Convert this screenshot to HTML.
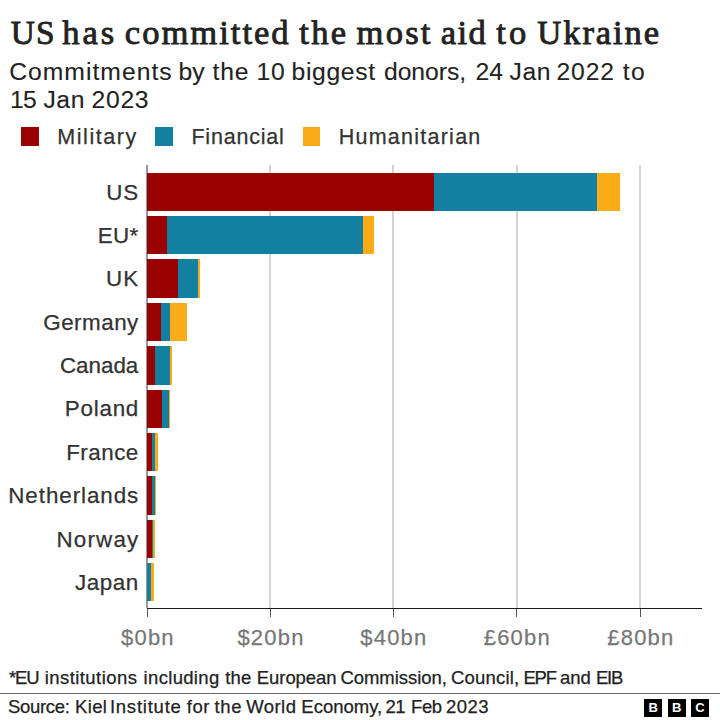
<!DOCTYPE html>
<html><head><meta charset="utf-8"><style>
html,body{margin:0;padding:0;background:#fff;width:720px;height:720px;overflow:hidden;position:relative}
</style></head><body>
<div id="t0" style="position:absolute;left:10.70px;top:14.82px;font-family:'Liberation Serif', serif;font-size:34.6px;line-height:34.6px;letter-spacing:1.170px;color:#222;white-space:nowrap;-webkit-text-stroke:0.85px #222;"><span style="font-size:33.3px">U</span><span style="font-size:33.3px">S</span></div>
<div id="t1" style="position:absolute;left:62.30px;top:14.82px;font-family:'Liberation Serif', serif;font-size:34.6px;line-height:34.6px;letter-spacing:2.850px;color:#222;white-space:nowrap;-webkit-text-stroke:0.85px #222;">has</div>
<div id="t2" style="position:absolute;left:124.80px;top:14.82px;font-family:'Liberation Serif', serif;font-size:34.6px;line-height:34.6px;letter-spacing:1.990px;color:#222;white-space:nowrap;-webkit-text-stroke:0.85px #222;">committed</div>
<div id="t3" style="position:absolute;left:299.30px;top:14.82px;font-family:'Liberation Serif', serif;font-size:34.6px;line-height:34.6px;letter-spacing:2.290px;color:#222;white-space:nowrap;-webkit-text-stroke:0.85px #222;">the</div>
<div id="t4" style="position:absolute;left:356.50px;top:14.82px;font-family:'Liberation Serif', serif;font-size:34.6px;line-height:34.6px;letter-spacing:2.235px;color:#222;white-space:nowrap;-webkit-text-stroke:0.85px #222;">most</div>
<div id="t5" style="position:absolute;left:440.70px;top:14.82px;font-family:'Liberation Serif', serif;font-size:34.6px;line-height:34.6px;letter-spacing:1.490px;color:#222;white-space:nowrap;-webkit-text-stroke:0.85px #222;">aid</div>
<div id="t6" style="position:absolute;left:496.20px;top:14.82px;font-family:'Liberation Serif', serif;font-size:34.6px;line-height:34.6px;letter-spacing:3.200px;color:#222;white-space:nowrap;-webkit-text-stroke:0.85px #222;">to</div>
<div id="t7" style="position:absolute;left:537.30px;top:14.82px;font-family:'Liberation Serif', serif;font-size:34.6px;line-height:34.6px;letter-spacing:1.888px;color:#222;white-space:nowrap;-webkit-text-stroke:0.85px #222;"><span style="font-size:33.3px">U</span>kraine</div>
<div id="s0" style="position:absolute;left:9.20px;top:59.59px;font-family:'Liberation Sans', sans-serif;font-size:24.7px;line-height:24.7px;letter-spacing:1.018px;color:#222;white-space:nowrap;-webkit-text-stroke:0.1px #222;">Commitments</div>
<div id="s1" style="position:absolute;left:178.40px;top:59.59px;font-family:'Liberation Sans', sans-serif;font-size:24.7px;line-height:24.7px;letter-spacing:0.090px;color:#222;white-space:nowrap;-webkit-text-stroke:0.1px #222;">by</div>
<div id="s2" style="position:absolute;left:212.50px;top:59.59px;font-family:'Liberation Sans', sans-serif;font-size:24.7px;line-height:24.7px;letter-spacing:0.810px;color:#222;white-space:nowrap;-webkit-text-stroke:0.1px #222;">the</div>
<div id="s3" style="position:absolute;left:256.40px;top:59.59px;font-family:'Liberation Sans', sans-serif;font-size:24.7px;line-height:24.7px;letter-spacing:0.890px;color:#222;white-space:nowrap;-webkit-text-stroke:0.1px #222;">10</div>
<div id="s4" style="position:absolute;left:291.60px;top:59.59px;font-family:'Liberation Sans', sans-serif;font-size:24.7px;line-height:24.7px;letter-spacing:0.649px;color:#222;white-space:nowrap;-webkit-text-stroke:0.1px #222;">biggest</div>
<div id="s5" style="position:absolute;left:384.00px;top:59.59px;font-family:'Liberation Sans', sans-serif;font-size:24.7px;line-height:24.7px;letter-spacing:-0.045px;color:#222;white-space:nowrap;-webkit-text-stroke:0.1px #222;">donors,</div>
<div id="s6" style="position:absolute;left:475.40px;top:59.59px;font-family:'Liberation Sans', sans-serif;font-size:24.7px;line-height:24.7px;letter-spacing:0.090px;color:#222;white-space:nowrap;-webkit-text-stroke:0.1px #222;">24</div>
<div id="s7" style="position:absolute;left:509.50px;top:59.59px;font-family:'Liberation Sans', sans-serif;font-size:24.7px;line-height:24.7px;letter-spacing:0.650px;color:#222;white-space:nowrap;-webkit-text-stroke:0.1px #222;">Jan</div>
<div id="s8" style="position:absolute;left:556.50px;top:59.59px;font-family:'Liberation Sans', sans-serif;font-size:24.7px;line-height:24.7px;letter-spacing:0.836px;color:#222;white-space:nowrap;-webkit-text-stroke:0.1px #222;">2022</div>
<div id="s9" style="position:absolute;left:622.70px;top:59.59px;font-family:'Liberation Sans', sans-serif;font-size:24.7px;line-height:24.7px;letter-spacing:1.530px;color:#222;white-space:nowrap;-webkit-text-stroke:0.1px #222;">to</div>
<div id="u0" style="position:absolute;left:9.90px;top:87.79px;font-family:'Liberation Sans', sans-serif;font-size:24.7px;line-height:24.7px;letter-spacing:-0.610px;color:#222;white-space:nowrap;-webkit-text-stroke:0.1px #222;">15</div>
<div id="u1" style="position:absolute;left:43.40px;top:87.79px;font-family:'Liberation Sans', sans-serif;font-size:24.7px;line-height:24.7px;letter-spacing:0.590px;color:#222;white-space:nowrap;-webkit-text-stroke:0.1px #222;">Jan</div>
<div id="u2" style="position:absolute;left:91.50px;top:87.79px;font-family:'Liberation Sans', sans-serif;font-size:24.7px;line-height:24.7px;letter-spacing:0.723px;color:#222;white-space:nowrap;-webkit-text-stroke:0.1px #222;">2023</div>
<div style="position:absolute;left:21.00px;top:127.30px;width:17.60px;height:18.40px;background:#990000"></div>
<div style="position:absolute;left:155.30px;top:127.30px;width:17.60px;height:18.40px;background:#1380A1"></div>
<div style="position:absolute;left:302.50px;top:127.30px;width:17.70px;height:18.40px;background:#FAAB18"></div>
<div style="position:absolute;left:57.30px;top:126.80px;font-family:'Liberation Sans', sans-serif;font-weight:normal;font-size:21.5px;line-height:21.5px;letter-spacing:1.55px;color:#333;white-space:nowrap;-webkit-text-stroke:0.25px #333;">Military</div>
<div style="position:absolute;left:191.40px;top:126.80px;font-family:'Liberation Sans', sans-serif;font-weight:normal;font-size:21.5px;line-height:21.5px;letter-spacing:0.8px;color:#333;white-space:nowrap;-webkit-text-stroke:0.25px #333;">Financial</div>
<div style="position:absolute;left:338.70px;top:126.80px;font-family:'Liberation Sans', sans-serif;font-weight:normal;font-size:21.5px;line-height:21.5px;letter-spacing:1.25px;color:#333;white-space:nowrap;-webkit-text-stroke:0.25px #333;">Humanitarian</div>
<div style="position:absolute;left:269.30px;top:165.30px;width:2.20px;height:442.70px;background:#d4d4d4"></div>
<div style="position:absolute;left:392.20px;top:165.30px;width:2.20px;height:442.70px;background:#d4d4d4"></div>
<div style="position:absolute;left:515.60px;top:165.30px;width:2.20px;height:442.70px;background:#d4d4d4"></div>
<div style="position:absolute;left:639.20px;top:165.30px;width:2.20px;height:442.70px;background:#d4d4d4"></div>
<div style="position:absolute;left:146.30px;top:165.30px;width:2.00px;height:442.70px;background:#999"></div>
<div style="position:absolute;left:147.40px;top:172.70px;width:473.00px;height:38.30px;background:#FAAB18"></div>
<div style="position:absolute;left:147.40px;top:172.70px;width:449.30px;height:38.30px;background:#1380A1"></div>
<div style="position:absolute;left:147.40px;top:172.70px;width:286.80px;height:38.30px;background:#990000"></div>
<div style="position:absolute;right:580.70px;text-align:right;top:181.54px;font-family:'Liberation Sans', sans-serif;font-weight:normal;font-size:22.4px;line-height:22.4px;letter-spacing:1.0px;color:#333;white-space:nowrap;-webkit-text-stroke:0.25px #333;">US</div>
<div style="position:absolute;left:147.40px;top:216.08px;width:226.30px;height:38.30px;background:#FAAB18"></div>
<div style="position:absolute;left:147.40px;top:216.08px;width:215.80px;height:38.30px;background:#1380A1"></div>
<div style="position:absolute;left:147.40px;top:216.08px;width:19.40px;height:38.30px;background:#990000"></div>
<div style="position:absolute;right:581.30px;text-align:right;top:224.92px;font-family:'Liberation Sans', sans-serif;font-weight:normal;font-size:22.4px;line-height:22.4px;letter-spacing:0.4px;color:#333;white-space:nowrap;-webkit-text-stroke:0.25px #333;">EU*</div>
<div style="position:absolute;left:147.40px;top:259.46px;width:53.10px;height:38.30px;background:#FAAB18"></div>
<div style="position:absolute;left:147.40px;top:259.46px;width:50.80px;height:38.30px;background:#1380A1"></div>
<div style="position:absolute;left:147.40px;top:259.46px;width:30.90px;height:38.30px;background:#990000"></div>
<div style="position:absolute;right:580.40px;text-align:right;top:268.30px;font-family:'Liberation Sans', sans-serif;font-weight:normal;font-size:22.4px;line-height:22.4px;letter-spacing:1.3px;color:#333;white-space:nowrap;-webkit-text-stroke:0.25px #333;">UK</div>
<div style="position:absolute;left:147.40px;top:302.84px;width:39.30px;height:38.30px;background:#FAAB18"></div>
<div style="position:absolute;left:147.40px;top:302.84px;width:22.60px;height:38.30px;background:#1380A1"></div>
<div style="position:absolute;left:147.40px;top:302.84px;width:14.00px;height:38.30px;background:#990000"></div>
<div style="position:absolute;right:581.20px;text-align:right;top:311.68px;font-family:'Liberation Sans', sans-serif;font-weight:normal;font-size:22.4px;line-height:22.4px;letter-spacing:0.5px;color:#333;white-space:nowrap;-webkit-text-stroke:0.25px #333;">Germany</div>
<div style="position:absolute;left:147.40px;top:346.22px;width:24.60px;height:38.30px;background:#FAAB18"></div>
<div style="position:absolute;left:147.40px;top:346.22px;width:22.90px;height:38.30px;background:#1380A1"></div>
<div style="position:absolute;left:147.40px;top:346.22px;width:7.60px;height:38.30px;background:#990000"></div>
<div style="position:absolute;right:581.70px;text-align:right;top:355.06px;font-family:'Liberation Sans', sans-serif;font-weight:normal;font-size:22.4px;line-height:22.4px;letter-spacing:0.0px;color:#333;white-space:nowrap;-webkit-text-stroke:0.25px #333;">Canada</div>
<div style="position:absolute;left:147.40px;top:389.60px;width:22.40px;height:38.30px;background:#FAAB18"></div>
<div style="position:absolute;left:147.40px;top:389.60px;width:21.90px;height:38.30px;background:#1380A1"></div>
<div style="position:absolute;left:147.40px;top:389.60px;width:15.00px;height:38.30px;background:#990000"></div>
<div style="position:absolute;right:580.95px;text-align:right;top:398.44px;font-family:'Liberation Sans', sans-serif;font-weight:normal;font-size:22.4px;line-height:22.4px;letter-spacing:0.75px;color:#333;white-space:nowrap;-webkit-text-stroke:0.25px #333;">Poland</div>
<div style="position:absolute;left:147.40px;top:432.98px;width:10.40px;height:38.30px;background:#FAAB18"></div>
<div style="position:absolute;left:147.40px;top:432.98px;width:8.10px;height:38.30px;background:#1380A1"></div>
<div style="position:absolute;left:147.40px;top:432.98px;width:4.40px;height:38.30px;background:#990000"></div>
<div style="position:absolute;right:581.22px;text-align:right;top:441.82px;font-family:'Liberation Sans', sans-serif;font-weight:normal;font-size:22.4px;line-height:22.4px;letter-spacing:0.48px;color:#333;white-space:nowrap;-webkit-text-stroke:0.25px #333;">France</div>
<div style="position:absolute;left:147.40px;top:476.36px;width:8.60px;height:38.30px;background:#FAAB18"></div>
<div style="position:absolute;left:147.40px;top:476.36px;width:7.20px;height:38.30px;background:#1380A1"></div>
<div style="position:absolute;left:147.40px;top:476.36px;width:5.10px;height:38.30px;background:#990000"></div>
<div style="position:absolute;right:580.77px;text-align:right;top:485.20px;font-family:'Liberation Sans', sans-serif;font-weight:normal;font-size:22.4px;line-height:22.4px;letter-spacing:0.93px;color:#333;white-space:nowrap;-webkit-text-stroke:0.25px #333;">Netherlands</div>
<div style="position:absolute;left:147.40px;top:519.74px;width:7.60px;height:38.30px;background:#FAAB18"></div>
<div style="position:absolute;left:147.40px;top:519.74px;width:5.60px;height:38.30px;background:#1380A1"></div>
<div style="position:absolute;left:147.40px;top:519.74px;width:5.10px;height:38.30px;background:#990000"></div>
<div style="position:absolute;right:580.52px;text-align:right;top:528.58px;font-family:'Liberation Sans', sans-serif;font-weight:normal;font-size:22.4px;line-height:22.4px;letter-spacing:1.18px;color:#333;white-space:nowrap;-webkit-text-stroke:0.25px #333;">Norway</div>
<div style="position:absolute;left:147.40px;top:563.12px;width:6.90px;height:38.30px;background:#FAAB18"></div>
<div style="position:absolute;left:147.40px;top:563.12px;width:4.10px;height:38.30px;background:#1380A1"></div>
<div style="position:absolute;left:147.40px;top:563.12px;width:0.00px;height:38.30px;background:#990000"></div>
<div style="position:absolute;right:581.15px;text-align:right;top:571.96px;font-family:'Liberation Sans', sans-serif;font-weight:normal;font-size:22.4px;line-height:22.4px;letter-spacing:0.55px;color:#333;white-space:nowrap;-webkit-text-stroke:0.25px #333;">Japan</div>
<div style="position:absolute;left:147.00px;top:607.50px;width:555.00px;height:1.90px;background:#1a1a1a"></div>
<div style="position:absolute;left:146.55px;top:609.00px;width:1.50px;height:8.00px;background:#555"></div>
<div style="position:absolute;left:-52.10px;width:400px;text-align:center;top:627.18px;font-family:'Liberation Sans', sans-serif;font-weight:normal;font-size:22px;line-height:22px;letter-spacing:1.2px;color:#777;white-space:nowrap;-webkit-text-stroke:0.25px #777;">$0bn</div>
<div style="position:absolute;left:269.65px;top:609.00px;width:1.50px;height:8.00px;background:#555"></div>
<div style="position:absolute;left:71.00px;width:400px;text-align:center;top:627.18px;font-family:'Liberation Sans', sans-serif;font-weight:normal;font-size:22px;line-height:22px;letter-spacing:1.2px;color:#777;white-space:nowrap;-webkit-text-stroke:0.25px #777;">$20bn</div>
<div style="position:absolute;left:392.55px;top:609.00px;width:1.50px;height:8.00px;background:#555"></div>
<div style="position:absolute;left:193.90px;width:400px;text-align:center;top:627.18px;font-family:'Liberation Sans', sans-serif;font-weight:normal;font-size:22px;line-height:22px;letter-spacing:1.2px;color:#777;white-space:nowrap;-webkit-text-stroke:0.25px #777;">$40bn</div>
<div style="position:absolute;left:515.95px;top:609.00px;width:1.50px;height:8.00px;background:#555"></div>
<div style="position:absolute;left:317.30px;width:400px;text-align:center;top:627.18px;font-family:'Liberation Sans', sans-serif;font-weight:normal;font-size:22px;line-height:22px;letter-spacing:1.2px;color:#777;white-space:nowrap;-webkit-text-stroke:0.25px #777;">£60bn</div>
<div style="position:absolute;left:639.55px;top:609.00px;width:1.50px;height:8.00px;background:#555"></div>
<div style="position:absolute;left:440.90px;width:400px;text-align:center;top:627.18px;font-family:'Liberation Sans', sans-serif;font-weight:normal;font-size:22px;line-height:22px;letter-spacing:1.2px;color:#777;white-space:nowrap;-webkit-text-stroke:0.25px #777;">£80bn</div>
<div id="f0" style="position:absolute;left:9.00px;top:668.84px;font-family:'Liberation Sans', sans-serif;font-size:18.5px;line-height:18.5px;letter-spacing:-1.200px;color:#222;white-space:nowrap;-webkit-text-stroke:0.25px #222;">*EU</div>
<div id="f1" style="position:absolute;left:44.70px;top:668.84px;font-family:'Liberation Sans', sans-serif;font-size:18.5px;line-height:18.5px;letter-spacing:0.435px;color:#222;white-space:nowrap;-webkit-text-stroke:0.25px #222;">institutions</div>
<div id="f2" style="position:absolute;left:143.60px;top:668.84px;font-family:'Liberation Sans', sans-serif;font-size:18.5px;line-height:18.5px;letter-spacing:0.320px;color:#222;white-space:nowrap;-webkit-text-stroke:0.25px #222;">including</div>
<div id="f3" style="position:absolute;left:225.30px;top:668.84px;font-family:'Liberation Sans', sans-serif;font-size:18.5px;line-height:18.5px;letter-spacing:0.160px;color:#222;white-space:nowrap;-webkit-text-stroke:0.25px #222;">the</div>
<div id="f4" style="position:absolute;left:256.80px;top:668.84px;font-family:'Liberation Sans', sans-serif;font-size:18.5px;line-height:18.5px;letter-spacing:-0.070px;color:#222;white-space:nowrap;-webkit-text-stroke:0.25px #222;">European</div>
<div id="f5" style="position:absolute;left:340.40px;top:668.84px;font-family:'Liberation Sans', sans-serif;font-size:18.5px;line-height:18.5px;letter-spacing:-0.032px;color:#222;white-space:nowrap;-webkit-text-stroke:0.25px #222;">Commission,</div>
<div id="f6" style="position:absolute;left:451.00px;top:668.84px;font-family:'Liberation Sans', sans-serif;font-size:18.5px;line-height:18.5px;letter-spacing:0.204px;color:#222;white-space:nowrap;-webkit-text-stroke:0.25px #222;">Council,</div>
<div id="f7" style="position:absolute;left:523.40px;top:668.84px;font-family:'Liberation Sans', sans-serif;font-size:18.5px;line-height:18.5px;letter-spacing:-1.200px;color:#222;white-space:nowrap;-webkit-text-stroke:0.25px #222;">EPF</div>
<div id="f8" style="position:absolute;left:560.00px;top:668.84px;font-family:'Liberation Sans', sans-serif;font-size:18.5px;line-height:18.5px;letter-spacing:0.000px;color:#222;white-space:nowrap;-webkit-text-stroke:0.25px #222;">and</div>
<div id="f9" style="position:absolute;left:595.90px;top:668.84px;font-family:'Liberation Sans', sans-serif;font-size:18.5px;line-height:18.5px;letter-spacing:-1.200px;color:#222;white-space:nowrap;-webkit-text-stroke:0.25px #222;">EIB</div>
<div style="position:absolute;left:0.00px;top:692.50px;width:720.00px;height:1.50px;background:#666"></div>
<div id="r0" style="position:absolute;left:7.90px;top:697.84px;font-family:'Liberation Sans', sans-serif;font-size:18.5px;line-height:18.5px;letter-spacing:-0.285px;color:#222;white-space:nowrap;-webkit-text-stroke:0.25px #222;">Source:</div>
<div id="r1" style="position:absolute;left:75.10px;top:697.84px;font-family:'Liberation Sans', sans-serif;font-size:18.5px;line-height:18.5px;letter-spacing:0.302px;color:#222;white-space:nowrap;-webkit-text-stroke:0.25px #222;">Kiel</div>
<div id="r2" style="position:absolute;left:109.90px;top:697.84px;font-family:'Liberation Sans', sans-serif;font-size:18.5px;line-height:18.5px;letter-spacing:0.770px;color:#222;white-space:nowrap;-webkit-text-stroke:0.25px #222;">Institute</div>
<div id="r3" style="position:absolute;left:186.80px;top:697.84px;font-family:'Liberation Sans', sans-serif;font-size:18.5px;line-height:18.5px;letter-spacing:0.570px;color:#222;white-space:nowrap;-webkit-text-stroke:0.25px #222;">for</div>
<div id="r4" style="position:absolute;left:214.40px;top:697.84px;font-family:'Liberation Sans', sans-serif;font-size:18.5px;line-height:18.5px;letter-spacing:0.730px;color:#222;white-space:nowrap;-webkit-text-stroke:0.25px #222;">the</div>
<div id="r5" style="position:absolute;left:246.20px;top:697.84px;font-family:'Liberation Sans', sans-serif;font-size:18.5px;line-height:18.5px;letter-spacing:0.450px;color:#222;white-space:nowrap;-webkit-text-stroke:0.25px #222;">World</div>
<div id="r6" style="position:absolute;left:301.30px;top:697.84px;font-family:'Liberation Sans', sans-serif;font-size:18.5px;line-height:18.5px;letter-spacing:-0.002px;color:#222;white-space:nowrap;-webkit-text-stroke:0.25px #222;">Economy,</div>
<div id="r7" style="position:absolute;left:385.60px;top:697.84px;font-family:'Liberation Sans', sans-serif;font-size:18.5px;line-height:18.5px;letter-spacing:-0.550px;color:#222;white-space:nowrap;-webkit-text-stroke:0.25px #222;">21</div>
<div id="r8" style="position:absolute;left:411.10px;top:697.84px;font-family:'Liberation Sans', sans-serif;font-size:18.5px;line-height:18.5px;letter-spacing:-0.470px;color:#222;white-space:nowrap;-webkit-text-stroke:0.25px #222;">Feb</div>
<div id="r9" style="position:absolute;left:446.10px;top:697.84px;font-family:'Liberation Sans', sans-serif;font-size:18.5px;line-height:18.5px;letter-spacing:0.408px;color:#222;white-space:nowrap;-webkit-text-stroke:0.25px #222;">2023</div>
<div style="position:absolute;left:644.2px;top:698.7px;width:18px;height:18px;background:#000;color:#fff;font-family:'Liberation Sans', sans-serif;font-weight:bold;font-size:13px;line-height:18px;text-align:center">B</div>
<div style="position:absolute;left:667.6px;top:698.7px;width:18px;height:18px;background:#000;color:#fff;font-family:'Liberation Sans', sans-serif;font-weight:bold;font-size:13px;line-height:18px;text-align:center">B</div>
<div style="position:absolute;left:690.9px;top:698.7px;width:18px;height:18px;background:#000;color:#fff;font-family:'Liberation Sans', sans-serif;font-weight:bold;font-size:13px;line-height:18px;text-align:center">C</div>
</body></html>
